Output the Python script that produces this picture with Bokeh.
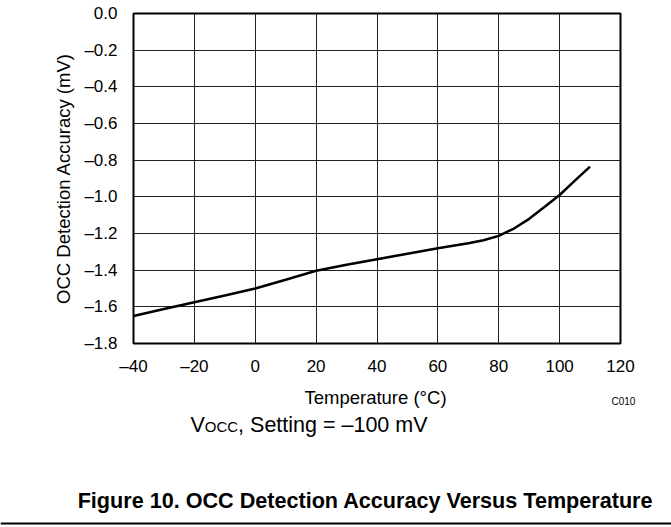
from bokeh.plotting import figure
from bokeh.models import FixedTicker, Range1d
from bokeh.layouts import column
from bokeh.core.properties import value
from bokeh.embed import file_html
from bokeh.resources import INLINE

# Data
temperature = [-40, -30, -20, -10, 0, 10, 20, 30, 40, 50, 60, 70, 75, 80, 85, 90, 95, 100, 105, 110]
accuracy = [-1.65, -1.612, -1.575, -1.538, -1.50, -1.452, -1.403, -1.37, -1.34, -1.31, -1.28, -1.253, -1.237, -1.213, -1.173, -1.12, -1.055, -0.99, -0.912, -0.835]

x_ticks = [-40, -20, 0, 20, 40, 60, 80, 100, 120]
x_tick_labels = ["\u201340", "\u201320", "0", "20", "40", "60", "80", "100", "120"]
y_ticks = [-1.8, -1.6, -1.4, -1.2, -1.0, -0.8, -0.6, -0.4, -0.2, 0.0]
y_tick_labels = ["\u20131.8", "\u20131.6", "\u20131.4", "\u20131.2", "\u20131.0",
                 "\u20130.8", "\u20130.6", "\u20130.4", "\u20130.2", "0.0"]

x_title = "Temperature (\u00b0C)"
y_title = "OCC Detection Accuracy (mV)"
chart_code = "C010"
cond_main = "V"
cond_sub = "OCC"
cond_rest = ", Setting = \u2013100 mV"
caption = "Figure 10. OCC Detection Accuracy Versus Temperature"

FONT = "Liberation Sans"

# ---------------- main chart ----------------
p = figure(width=671, height=378, x_range=(-40, 120), y_range=(-1.8, 0.0),
           output_backend="svg", toolbar_location=None,
           min_border_left=133, min_border_right=51, min_border_top=13, min_border_bottom=34)
p.frame_align = False

p.background_fill_color = "white"
p.border_fill_color = "white"
p.outline_line_color = "black"
p.outline_line_width = 2

p.xaxis.ticker = FixedTicker(ticks=x_ticks)
p.yaxis.ticker = FixedTicker(ticks=y_ticks)
p.xaxis.major_label_overrides = dict(zip(x_ticks, x_tick_labels))
p.yaxis.major_label_overrides = dict(zip(y_ticks, y_tick_labels))

for ax in (p.xaxis[0], p.yaxis[0]):
    ax.axis_line_color = None
    ax.major_tick_line_color = None
    ax.minor_tick_line_color = None
    ax.major_tick_out = 0
    ax.major_tick_in = 0
    ax.major_label_text_font = FONT
    ax.major_label_text_font_size = "17px"
    ax.major_label_text_color = "black"
    ax.axis_label_text_font = FONT
    ax.axis_label_text_font_size = "18.5px"
    ax.axis_label_text_font_style = "normal"
    ax.axis_label_text_color = "black"

p.yaxis.axis_label = y_title
p.xaxis.major_label_standoff = 13
p.yaxis.major_label_standoff = 16
p.yaxis.axis_label_standoff = 7

p.xgrid.grid_line_color = "#222222"
p.ygrid.grid_line_color = "#222222"
p.xgrid.grid_line_width = 1
p.ygrid.grid_line_width = 1

p.line(temperature, accuracy, line_color="black", line_width=2.5)

# ---------------- text block below the chart (pixel layout) ----------------
W, H = 671, 149
q = figure(width=W, height=H, x_range=Range1d(0, W), y_range=Range1d(H, 0),
           output_backend="svg", toolbar_location=None,
           x_axis_location=None, y_axis_location=None,
           min_border_left=0, min_border_right=0, min_border_top=0, min_border_bottom=0)
q.frame_align = False
q.outline_line_color = None
q.background_fill_color = "white"
q.border_fill_color = "white"
q.xgrid.visible = False
q.ygrid.visible = False

def txt(x, y, s, size, style="normal", align="left"):
    q.text(x=[x], y=[y], text=[s], text_font=value(FONT), text_font_size=size,
           text_font_style=style, text_color="black", text_align=align,
           text_baseline="alphabetic")

txt(375, 19, x_title, "18.5px", align="center")
txt(611, 23, chart_code, "10px")
txt(190, 46, cond_main, "21.5px")
txt(204.3, 48, cond_sub, "15px")
txt(237.6, 46, cond_rest, "21.5px")
txt(365, 122, caption, "21.6px", style="bold", align="center")
q.segment(x0=[0], y0=[145], x1=[W], y1=[145], line_color="black", line_width=2)

layout = column(p, q, spacing=0)
open("out.html", "w").write(file_html(layout, INLINE))
